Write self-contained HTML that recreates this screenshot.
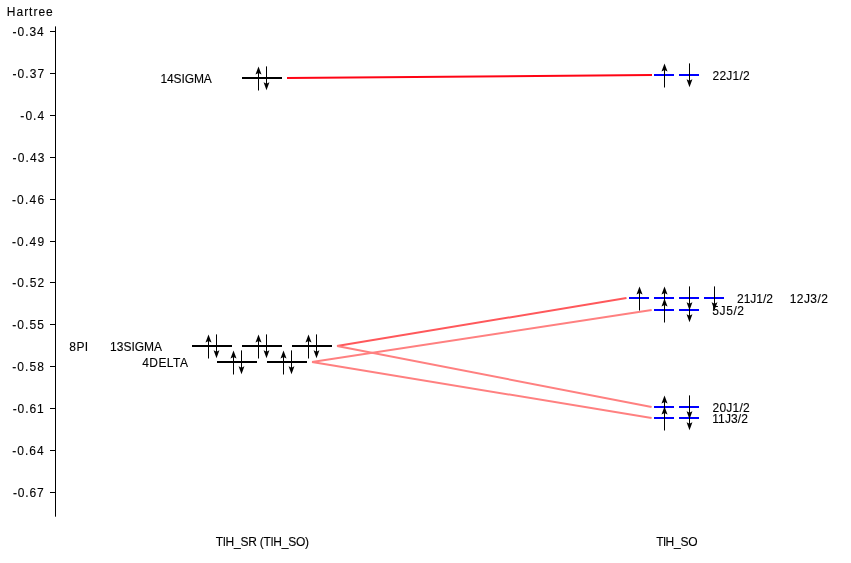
<!DOCTYPE html>
<html><head><meta charset="utf-8"><style>
html,body{margin:0;padding:0;background:#fff;}
body{width:851px;height:563px;overflow:hidden;}
svg{display:block;}
text{font-family:"Liberation Sans", sans-serif;font-size:12px;fill:#000;stroke:#000;stroke-width:0.12px;}
svg{will-change:transform;}
</style></head><body>
<svg width="851" height="563" viewBox="0 0 851 563">
<line x1="55.5" y1="26.4" x2="55.5" y2="516.7" stroke="#000" stroke-width="1"/>
<line x1="50" y1="31.50" x2="55.5" y2="31.50" stroke="#000" stroke-width="1"/>
<line x1="50" y1="73.50" x2="55.5" y2="73.50" stroke="#000" stroke-width="1"/>
<line x1="50" y1="115.50" x2="55.5" y2="115.50" stroke="#000" stroke-width="1"/>
<line x1="50" y1="157.50" x2="55.5" y2="157.50" stroke="#000" stroke-width="1"/>
<line x1="50" y1="199.50" x2="55.5" y2="199.50" stroke="#000" stroke-width="1"/>
<line x1="50" y1="241.50" x2="55.5" y2="241.50" stroke="#000" stroke-width="1"/>
<line x1="50" y1="282.50" x2="55.5" y2="282.50" stroke="#000" stroke-width="1"/>
<line x1="50" y1="324.50" x2="55.5" y2="324.50" stroke="#000" stroke-width="1"/>
<line x1="50" y1="366.50" x2="55.5" y2="366.50" stroke="#000" stroke-width="1"/>
<line x1="50" y1="408.50" x2="55.5" y2="408.50" stroke="#000" stroke-width="1"/>
<line x1="50" y1="450.50" x2="55.5" y2="450.50" stroke="#000" stroke-width="1"/>
<line x1="50" y1="492.50" x2="55.5" y2="492.50" stroke="#000" stroke-width="1"/>
<line x1="287" y1="78" x2="652" y2="75" stroke="#ff0414" stroke-width="2"/>
<line x1="337" y1="346" x2="626.5" y2="298" stroke="#ff585b" stroke-width="2"/>
<line x1="337" y1="346" x2="651.6" y2="407" stroke="#ff8080" stroke-width="2"/>
<line x1="312" y1="362" x2="651.7" y2="310" stroke="#ff8080" stroke-width="2"/>
<line x1="312" y1="362" x2="651.6" y2="418" stroke="#ff8080" stroke-width="2"/>
<line x1="242" y1="78" x2="282" y2="78" stroke="#000" stroke-width="2"/><line x1="258.5" y1="90.5" x2="258.5" y2="70" stroke="#000" stroke-width="1"/><path d="M258.5 66.5 L261.5 74.5 L258.5 73 L255.5 74.5 Z" fill="#000"/><line x1="266.5" y1="66.4" x2="266.5" y2="86" stroke="#000" stroke-width="1"/><path d="M266.5 90.2 L269.4 82.3 L266.5 83.7 L263.6 82.3 Z" fill="#000"/>
<line x1="192" y1="346" x2="232" y2="346" stroke="#000" stroke-width="2"/><line x1="208.5" y1="358.5" x2="208.5" y2="338" stroke="#000" stroke-width="1"/><path d="M208.5 334.5 L211.5 342.5 L208.5 341 L205.5 342.5 Z" fill="#000"/><line x1="216.5" y1="334.4" x2="216.5" y2="354" stroke="#000" stroke-width="1"/><path d="M216.5 358.2 L219.4 350.3 L216.5 351.7 L213.6 350.3 Z" fill="#000"/>
<line x1="242" y1="346" x2="282" y2="346" stroke="#000" stroke-width="2"/><line x1="258.5" y1="358.5" x2="258.5" y2="338" stroke="#000" stroke-width="1"/><path d="M258.5 334.5 L261.5 342.5 L258.5 341 L255.5 342.5 Z" fill="#000"/><line x1="266.5" y1="334.4" x2="266.5" y2="354" stroke="#000" stroke-width="1"/><path d="M266.5 358.2 L269.4 350.3 L266.5 351.7 L263.6 350.3 Z" fill="#000"/>
<line x1="292" y1="346" x2="332" y2="346" stroke="#000" stroke-width="2"/><line x1="308.5" y1="358.5" x2="308.5" y2="338" stroke="#000" stroke-width="1"/><path d="M308.5 334.5 L311.5 342.5 L308.5 341 L305.5 342.5 Z" fill="#000"/><line x1="316.5" y1="334.4" x2="316.5" y2="354" stroke="#000" stroke-width="1"/><path d="M316.5 358.2 L319.4 350.3 L316.5 351.7 L313.6 350.3 Z" fill="#000"/>
<line x1="217" y1="362" x2="257" y2="362" stroke="#000" stroke-width="2"/><line x1="233.5" y1="374.5" x2="233.5" y2="354" stroke="#000" stroke-width="1"/><path d="M233.5 350.5 L236.5 358.5 L233.5 357 L230.5 358.5 Z" fill="#000"/><line x1="241.5" y1="350.4" x2="241.5" y2="370" stroke="#000" stroke-width="1"/><path d="M241.5 374.2 L244.4 366.3 L241.5 367.7 L238.6 366.3 Z" fill="#000"/>
<line x1="267" y1="362" x2="307" y2="362" stroke="#000" stroke-width="2"/><line x1="283.5" y1="374.5" x2="283.5" y2="354" stroke="#000" stroke-width="1"/><path d="M283.5 350.5 L286.5 358.5 L283.5 357 L280.5 358.5 Z" fill="#000"/><line x1="291.5" y1="350.4" x2="291.5" y2="370" stroke="#000" stroke-width="1"/><path d="M291.5 374.2 L294.4 366.3 L291.5 367.7 L288.6 366.3 Z" fill="#000"/>
<line x1="654" y1="75" x2="674" y2="75" stroke="#0000ff" stroke-width="2"/><line x1="664.5" y1="87.5" x2="664.5" y2="67" stroke="#000" stroke-width="1"/><path d="M664.5 63.5 L667.5 71.5 L664.5 70 L661.5 71.5 Z" fill="#000"/><line x1="679" y1="75" x2="699" y2="75" stroke="#0000ff" stroke-width="2"/><line x1="689.5" y1="63.4" x2="689.5" y2="83" stroke="#000" stroke-width="1"/><path d="M689.5 87.2 L692.4 79.3 L689.5 80.7 L686.6 79.3 Z" fill="#000"/>
<line x1="629" y1="298" x2="649" y2="298" stroke="#0000ff" stroke-width="2"/><line x1="639.5" y1="310.5" x2="639.5" y2="290" stroke="#000" stroke-width="1"/><path d="M639.5 286.5 L642.5 294.5 L639.5 293 L636.5 294.5 Z" fill="#000"/><line x1="654" y1="298" x2="674" y2="298" stroke="#0000ff" stroke-width="2"/><line x1="664.5" y1="310.5" x2="664.5" y2="290" stroke="#000" stroke-width="1"/><path d="M664.5 286.5 L667.5 294.5 L664.5 293 L661.5 294.5 Z" fill="#000"/><line x1="679" y1="298" x2="699" y2="298" stroke="#0000ff" stroke-width="2"/><line x1="689.5" y1="286.4" x2="689.5" y2="306" stroke="#000" stroke-width="1"/><path d="M689.5 310.2 L692.4 302.3 L689.5 303.7 L686.6 302.3 Z" fill="#000"/><line x1="704" y1="298" x2="724" y2="298" stroke="#0000ff" stroke-width="2"/><line x1="714.5" y1="286.4" x2="714.5" y2="306" stroke="#000" stroke-width="1"/><path d="M714.5 310.2 L717.4 302.3 L714.5 303.7 L711.6 302.3 Z" fill="#000"/>
<line x1="654" y1="310" x2="674" y2="310" stroke="#0000ff" stroke-width="2"/><line x1="664.5" y1="322.5" x2="664.5" y2="302" stroke="#000" stroke-width="1"/><path d="M664.5 298.5 L667.5 306.5 L664.5 305 L661.5 306.5 Z" fill="#000"/><line x1="679" y1="310" x2="699" y2="310" stroke="#0000ff" stroke-width="2"/><line x1="689.5" y1="298.4" x2="689.5" y2="318" stroke="#000" stroke-width="1"/><path d="M689.5 322.2 L692.4 314.3 L689.5 315.7 L686.6 314.3 Z" fill="#000"/>
<line x1="654" y1="407" x2="674" y2="407" stroke="#0000ff" stroke-width="2"/><line x1="664.5" y1="419.5" x2="664.5" y2="399" stroke="#000" stroke-width="1"/><path d="M664.5 395.5 L667.5 403.5 L664.5 402 L661.5 403.5 Z" fill="#000"/><line x1="679" y1="407" x2="699" y2="407" stroke="#0000ff" stroke-width="2"/><line x1="689.5" y1="395.4" x2="689.5" y2="415" stroke="#000" stroke-width="1"/><path d="M689.5 419.2 L692.4 411.3 L689.5 412.7 L686.6 411.3 Z" fill="#000"/>
<line x1="654" y1="418" x2="674" y2="418" stroke="#0000ff" stroke-width="2"/><line x1="664.5" y1="430.5" x2="664.5" y2="410" stroke="#000" stroke-width="1"/><path d="M664.5 406.5 L667.5 414.5 L664.5 413 L661.5 414.5 Z" fill="#000"/><line x1="679" y1="418" x2="699" y2="418" stroke="#0000ff" stroke-width="2"/><line x1="689.5" y1="406.4" x2="689.5" y2="426" stroke="#000" stroke-width="1"/><path d="M689.5 430.2 L692.4 422.3 L689.5 423.7 L686.6 422.3 Z" fill="#000"/>
<text x="6.85" y="15.80" letter-spacing="0.978">Hartree</text>
<text x="12.55" y="35.70" letter-spacing="0.971">-0.34</text>
<text x="12.55" y="77.70" letter-spacing="1.069">-0.37</text>
<text x="20.37" y="119.70" letter-spacing="1.024">-0.4</text>
<text x="12.55" y="161.70" letter-spacing="1.124">-0.43</text>
<text x="11.89" y="203.70" letter-spacing="1.215">-0.46</text>
<text x="11.89" y="245.70" letter-spacing="1.213">-0.49</text>
<text x="12.24" y="286.70" letter-spacing="1.141">-0.52</text>
<text x="12.24" y="328.70" letter-spacing="1.108">-0.55</text>
<text x="12.24" y="370.70" letter-spacing="1.101">-0.58</text>
<text x="12.63" y="412.70" letter-spacing="0.955">-0.61</text>
<text x="12.24" y="454.70" letter-spacing="1.027">-0.64</text>
<text x="12.89" y="496.70" letter-spacing="0.883">-0.67</text>
<text x="160.53" y="82.80" letter-spacing="-0.128">14SIGMA</text>
<text x="69.36" y="350.60" letter-spacing="0.399">8PI</text>
<text x="110.08" y="350.60" letter-spacing="-0.004">13SIGMA</text>
<text x="142.19" y="366.60" letter-spacing="0.429">4DELTA</text>
<text x="712.54" y="79.60" letter-spacing="0.233">22J1/2</text>
<text x="737.03" y="302.60" letter-spacing="-0.030">21J1/2</text>
<text x="789.72" y="302.60" letter-spacing="0.436">12J3/2</text>
<text x="712.24" y="314.60" letter-spacing="0.611">5J5/2</text>
<text x="712.54" y="411.60" letter-spacing="0.233">20J1/2</text>
<text x="712.21" y="422.60" letter-spacing="0.124">11J3/2</text>
<text x="215.85" y="545.60" letter-spacing="-0.196">TlH_SR (TlH_SO)</text>
<text x="656.13" y="545.70" letter-spacing="-0.264">TlH_SO</text>
</svg>
</body></html>
